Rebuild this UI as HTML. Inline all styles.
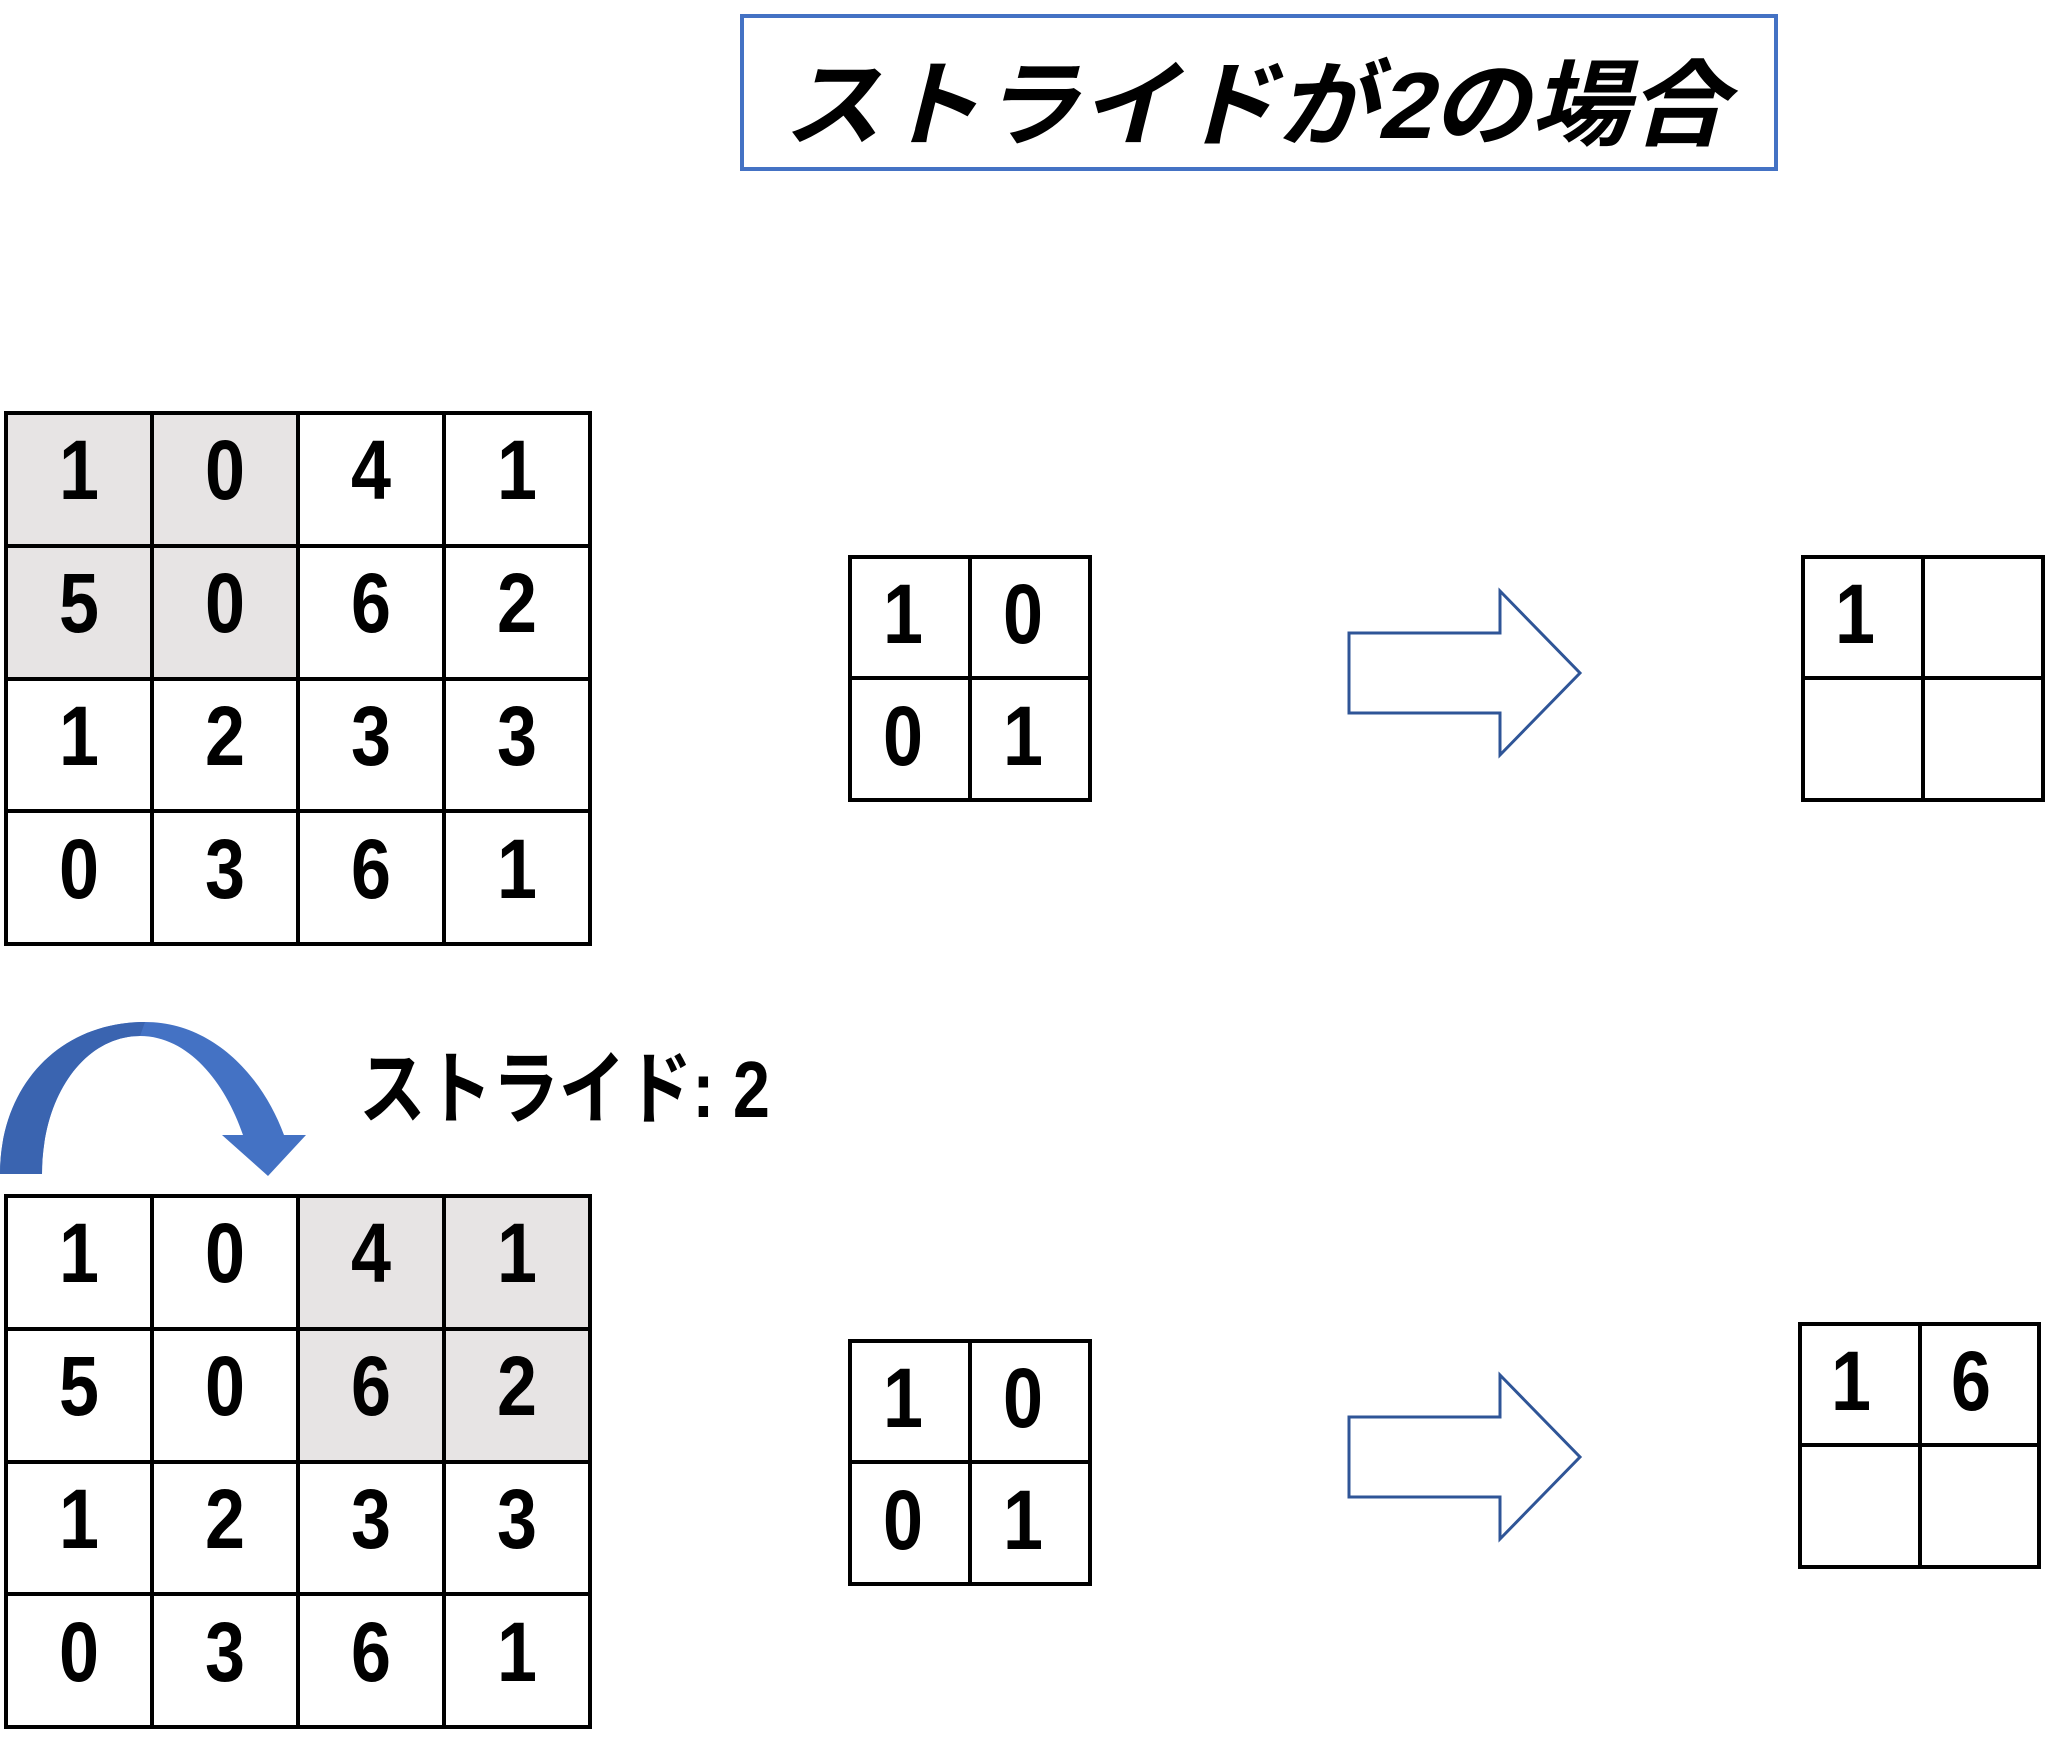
<!DOCTYPE html>
<html><head><meta charset="utf-8"><style>
html,body{margin:0;padding:0;background:#fff;}
svg{display:block;}
.d{font-family:"Liberation Sans",sans-serif;font-size:84px;font-weight:bold;text-anchor:middle;fill:#000;}
</style></head><body>
<svg width="2048" height="1748" viewBox="0 0 2048 1748" xmlns="http://www.w3.org/2000/svg">
<!-- title -->
<rect x="742" y="16" width="1034" height="153" fill="#fff" stroke="#4472c4" stroke-width="4"/>
<text x="0" y="0" transform="translate(783,138) skewX(-14)" font-family="'Liberation Sans','Noto Sans CJK JP',sans-serif" font-size="94" font-weight="bold" textLength="945" lengthAdjust="spacingAndGlyphs" fill="#000">ストライドが2の場合</text>

<!-- grid 1 -->
<rect x="6" y="413" width="292" height="266" fill="#e7e4e4"/>
<g stroke="#000" stroke-width="4" fill="none">
<rect x="6" y="413" width="584" height="531"/>
<line x1="152" y1="413" x2="152" y2="944"/><line x1="298" y1="413" x2="298" y2="944"/><line x1="444" y1="413" x2="444" y2="944"/>
<line x1="6" y1="546" x2="590" y2="546"/><line x1="6" y1="679" x2="590" y2="679"/><line x1="6" y1="811" x2="590" y2="811"/>
</g>
<g class="d">
<text x="79" y="499" textLength="40" lengthAdjust="spacingAndGlyphs">1</text><text x="225" y="499" textLength="40" lengthAdjust="spacingAndGlyphs">0</text><text x="371" y="499" textLength="40" lengthAdjust="spacingAndGlyphs">4</text><text x="517" y="499" textLength="40" lengthAdjust="spacingAndGlyphs">1</text>
<text x="79" y="632" textLength="40" lengthAdjust="spacingAndGlyphs">5</text><text x="225" y="632" textLength="40" lengthAdjust="spacingAndGlyphs">0</text><text x="371" y="632" textLength="40" lengthAdjust="spacingAndGlyphs">6</text><text x="517" y="632" textLength="40" lengthAdjust="spacingAndGlyphs">2</text>
<text x="79" y="765" textLength="40" lengthAdjust="spacingAndGlyphs">1</text><text x="225" y="765" textLength="40" lengthAdjust="spacingAndGlyphs">2</text><text x="371" y="765" textLength="40" lengthAdjust="spacingAndGlyphs">3</text><text x="517" y="765" textLength="40" lengthAdjust="spacingAndGlyphs">3</text>
<text x="79" y="898" textLength="40" lengthAdjust="spacingAndGlyphs">0</text><text x="225" y="898" textLength="40" lengthAdjust="spacingAndGlyphs">3</text><text x="371" y="898" textLength="40" lengthAdjust="spacingAndGlyphs">6</text><text x="517" y="898" textLength="40" lengthAdjust="spacingAndGlyphs">1</text>
</g>

<!-- grid 2 -->
<rect x="298" y="1196" width="292" height="266" fill="#e7e4e4"/>
<g stroke="#000" stroke-width="4" fill="none">
<rect x="6" y="1196" width="584" height="531"/>
<line x1="152" y1="1196" x2="152" y2="1727"/><line x1="298" y1="1196" x2="298" y2="1727"/><line x1="444" y1="1196" x2="444" y2="1727"/>
<line x1="6" y1="1329" x2="590" y2="1329"/><line x1="6" y1="1462" x2="590" y2="1462"/><line x1="6" y1="1594" x2="590" y2="1594"/>
</g>
<g class="d">
<text x="79" y="1282" textLength="40" lengthAdjust="spacingAndGlyphs">1</text><text x="225" y="1282" textLength="40" lengthAdjust="spacingAndGlyphs">0</text><text x="371" y="1282" textLength="40" lengthAdjust="spacingAndGlyphs">4</text><text x="517" y="1282" textLength="40" lengthAdjust="spacingAndGlyphs">1</text>
<text x="79" y="1415" textLength="40" lengthAdjust="spacingAndGlyphs">5</text><text x="225" y="1415" textLength="40" lengthAdjust="spacingAndGlyphs">0</text><text x="371" y="1415" textLength="40" lengthAdjust="spacingAndGlyphs">6</text><text x="517" y="1415" textLength="40" lengthAdjust="spacingAndGlyphs">2</text>
<text x="79" y="1548" textLength="40" lengthAdjust="spacingAndGlyphs">1</text><text x="225" y="1548" textLength="40" lengthAdjust="spacingAndGlyphs">2</text><text x="371" y="1548" textLength="40" lengthAdjust="spacingAndGlyphs">3</text><text x="517" y="1548" textLength="40" lengthAdjust="spacingAndGlyphs">3</text>
<text x="79" y="1681" textLength="40" lengthAdjust="spacingAndGlyphs">0</text><text x="225" y="1681" textLength="40" lengthAdjust="spacingAndGlyphs">3</text><text x="371" y="1681" textLength="40" lengthAdjust="spacingAndGlyphs">6</text><text x="517" y="1681" textLength="40" lengthAdjust="spacingAndGlyphs">1</text>
</g>

<!-- curved arrow -->
<path d="M0,1174 C0,1085 60,1022 145,1022 C212,1022 262,1075 284,1135 L306,1135 L268,1176 L222,1135 L243,1135 C225,1082 188,1036 140,1036 C85,1036 42,1095 42,1174 Z" fill="#4472c4"/>
<path d="M0,1174 C0,1085 60,1022 145,1022 L140,1036 C85,1036 42,1095 42,1174 Z" fill="#3a64b0"/>
<text x="359" y="1117" font-family="'Liberation Sans','Noto Sans CJK JP',sans-serif" font-weight="bold" font-size="80" textLength="411" lengthAdjust="spacingAndGlyphs" fill="#000">ストライド: 2</text>

<!-- kernels -->
<g stroke="#000" stroke-width="4" fill="none">
<rect x="850" y="557" width="240" height="243"/><line x1="970" y1="557" x2="970" y2="800"/><line x1="850" y1="678" x2="1090" y2="678"/>
<rect x="850" y="1341" width="240" height="243"/><line x1="970" y1="1341" x2="970" y2="1584"/><line x1="850" y1="1462" x2="1090" y2="1462"/>
<rect x="1803" y="557" width="240" height="243"/><line x1="1923" y1="557" x2="1923" y2="800"/><line x1="1803" y1="678" x2="2043" y2="678"/>
<rect x="1800" y="1324" width="239" height="243"/><line x1="1920" y1="1324" x2="1920" y2="1567"/><line x1="1800" y1="1445" x2="2039" y2="1445"/>
</g>
<g class="d">
<text x="903" y="643" textLength="40" lengthAdjust="spacingAndGlyphs">1</text><text x="1023" y="643" textLength="40" lengthAdjust="spacingAndGlyphs">0</text>
<text x="903" y="765" textLength="40" lengthAdjust="spacingAndGlyphs">0</text><text x="1023" y="765" textLength="40" lengthAdjust="spacingAndGlyphs">1</text>
<text x="903" y="1427" textLength="40" lengthAdjust="spacingAndGlyphs">1</text><text x="1023" y="1427" textLength="40" lengthAdjust="spacingAndGlyphs">0</text>
<text x="903" y="1549" textLength="40" lengthAdjust="spacingAndGlyphs">0</text><text x="1023" y="1549" textLength="40" lengthAdjust="spacingAndGlyphs">1</text>
<text x="1855" y="643" textLength="40" lengthAdjust="spacingAndGlyphs">1</text>
<text x="1851" y="1410" textLength="40" lengthAdjust="spacingAndGlyphs">1</text><text x="1971" y="1410" textLength="40" lengthAdjust="spacingAndGlyphs">6</text>
</g>

<!-- block arrows -->
<path d="M1349,633 L1500,633 L1500,591 L1580,673 L1500,755 L1500,713 L1349,713 Z" fill="#fff" stroke="#2f5597" stroke-width="3"/>
<path d="M1349,1417 L1500,1417 L1500,1375 L1580,1457 L1500,1539 L1500,1497 L1349,1497 Z" fill="#fff" stroke="#2f5597" stroke-width="3"/>
</svg>
</body></html>
